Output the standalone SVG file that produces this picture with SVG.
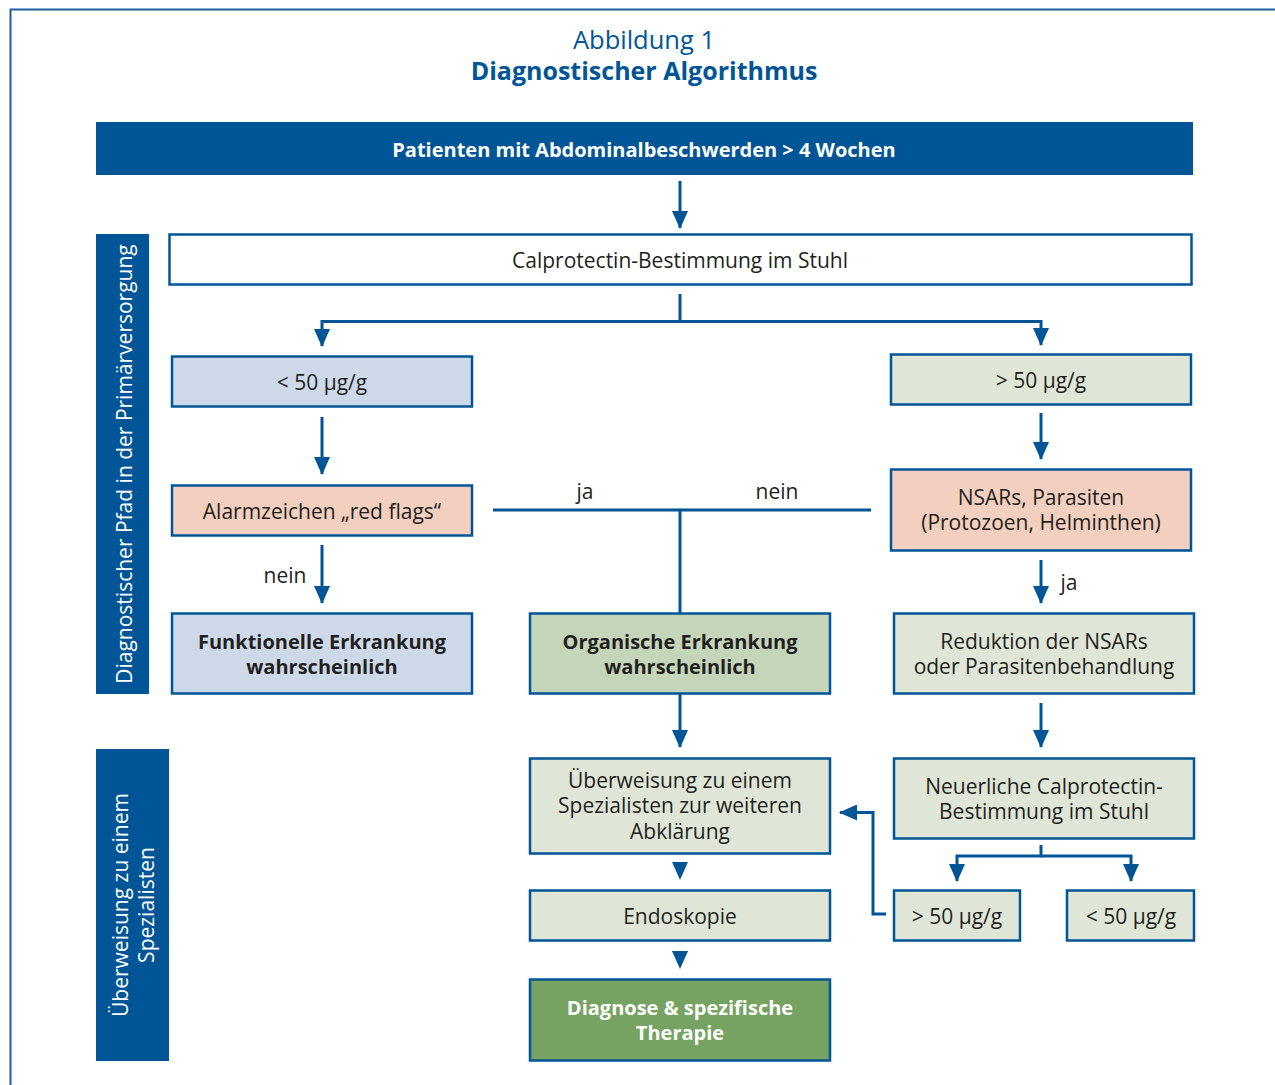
<svg xmlns="http://www.w3.org/2000/svg" width="1275" height="1085" viewBox="0 0 1275 1085">
<defs>
<marker id="ah" markerUnits="userSpaceOnUse" markerWidth="18" markerHeight="16" refX="17" refY="8" orient="auto" viewBox="0 0 18 16">
<path d="M0,0 L18,8 L0,16 Z" fill="#005596"/>
</marker>
</defs>
<style>
text{font-family:"Open Sans","Noto Sans","DejaVu Sans",sans-serif;fill:#231f20;font-size:21px;text-anchor:middle}
.b{font-weight:bold;font-size:20px}
.w{fill:#ffffff}
.t{fill:#005596}
.box{stroke:#005596;stroke-width:2.5}
.ln{stroke:#005596;stroke-width:3;fill:none}
.blue{fill:#cdd9e9}
.gl{fill:#dfe6d7}
.pk{fill:#f3cfbf}
.gm{fill:#c4d5b9}
.gd{fill:#76a361}
</style>
<rect width="1275" height="1085" fill="#ffffff"/>
<path d="M10.5,1085 V9.5 H1275" fill="none" stroke="#1a5e9c" stroke-width="2"/>
<g id="title">
<text x="644" y="49" class="t" style="font-size:25.5px">Abbildung 1</text>
<text x="644" y="80" class="t" style="font-size:25px;font-weight:bold">Diagnostischer Algorithmus</text>
</g>
<g id="connectors">
<line x1="680" y1="181" x2="680" y2="228" class="ln" marker-end="url(#ah)"/>
<polyline points="680,294 680,321.5 322,321.5 322,346" class="ln" marker-end="url(#ah)"/>
<polyline points="680,321.5 1041,321.5 1041,345" class="ln" marker-end="url(#ah)"/>
<line x1="322" y1="417" x2="322" y2="474" class="ln" marker-end="url(#ah)"/>
<line x1="1041" y1="413" x2="1041" y2="459" class="ln" marker-end="url(#ah)"/>
<line x1="493" y1="510" x2="871" y2="510" class="ln"/>
<line x1="680" y1="510" x2="680" y2="613" class="ln"/>
<line x1="322" y1="545" x2="322" y2="603" class="ln" marker-end="url(#ah)"/>
<line x1="1041" y1="560" x2="1041" y2="603" class="ln" marker-end="url(#ah)"/>
<line x1="680" y1="694" x2="680" y2="747" class="ln" marker-end="url(#ah)"/>
<line x1="1041" y1="703" x2="1041" y2="747" class="ln" marker-end="url(#ah)"/>
<polyline points="1041,845 1041,856 957,856 957,881" class="ln" marker-end="url(#ah)"/>
<polyline points="1041,856 1131,856 1131,881" class="ln" marker-end="url(#ah)"/>
<polyline points="886,914 873,914 873,812.5 840,812.5" class="ln" marker-end="url(#ah)"/>
<path d="M672,862 L688,862 L680,880 Z" fill="#005596"/>
<path d="M672,951 L688,951 L680,969 Z" fill="#005596"/>
<text x="585" y="499">ja</text>
<text x="777" y="499">nein</text>
<text x="285" y="583">nein</text>
<text x="1069" y="590">ja</text>
</g>
<g id="header">
<rect x="96" y="122" width="1097" height="53" fill="#005596"/>
<text x="644" y="157" class="b w">Patienten mit Abdominalbeschwerden &gt; 4 Wochen</text>
</g>
<g id="sidebar1">
<rect x="96" y="234" width="53" height="460" fill="#005596"/>
<text transform="translate(132,464) rotate(-90)" class="w">Diagnostischer Pfad in der Primärversorgung</text>
</g>
<g id="sidebar2">
<rect x="96" y="749" width="73" height="312" fill="#005596"/>
<text transform="translate(128,905) rotate(-90)" class="w">Überweisung zu einem</text>
<text transform="translate(154,905) rotate(-90)" class="w">Spezialisten</text>
</g>
<g id="calprotectin">
<rect x="169.5" y="234.5" width="1022" height="50" fill="#ffffff" class="box"/>
<text x="680" y="268">Calprotectin-Bestimmung im Stuhl</text>
</g>
<g id="lt50">
<rect x="172" y="356.5" width="300" height="50" class="box blue"/>
<text x="322" y="390">&lt; 50 µg/g</text>
</g>
<g id="gt50">
<rect x="891" y="354.5" width="300" height="50" class="box gl"/>
<text x="1041" y="388">&gt; 50 µg/g</text>
</g>
<g id="alarm">
<rect x="172" y="485.5" width="300" height="50" class="box pk"/>
<text x="322" y="519">Alarmzeichen „red flags“</text>
</g>
<g id="nsar">
<rect x="891" y="469.5" width="300" height="81" class="box pk"/>
<text x="1041" y="505">NSARs, Parasiten</text>
<text x="1041" y="530">(Protozoen, Helminthen)</text>
</g>
<g id="funktionell">
<rect x="172" y="613.5" width="300" height="80" class="box blue"/>
<text x="322" y="649" class="b">Funktionelle Erkrankung</text>
<text x="322" y="674" class="b">wahrscheinlich</text>
</g>
<g id="organisch">
<rect x="530" y="613.5" width="300" height="80" class="box gm"/>
<text x="680" y="649" class="b">Organische Erkrankung</text>
<text x="680" y="674" class="b">wahrscheinlich</text>
</g>
<g id="reduktion">
<rect x="894" y="613.5" width="300" height="80" class="box gl"/>
<text x="1044" y="649">Reduktion der NSARs</text>
<text x="1044" y="674">oder Parasitenbehandlung</text>
</g>
<g id="ueberweisung">
<rect x="530" y="758.5" width="300" height="95" class="box gl"/>
<text x="680" y="788">Überweisung zu einem</text>
<text x="680" y="813">Spezialisten zur weiteren</text>
<text x="680" y="839">Abklärung</text>
</g>
<g id="neuerliche">
<rect x="894" y="758.5" width="300" height="80" class="box gl"/>
<text x="1044" y="794">Neuerliche Calprotectin-</text>
<text x="1044" y="819">Bestimmung im Stuhl</text>
</g>
<g id="gt50b">
<rect x="894" y="890.5" width="126" height="50" class="box gl"/>
<text x="957" y="924">&gt; 50 µg/g</text>
</g>
<g id="lt50b">
<rect x="1067" y="890.5" width="127" height="50" class="box gl"/>
<text x="1131" y="924">&lt; 50 µg/g</text>
</g>
<g id="endoskopie">
<rect x="530" y="890.5" width="300" height="50" class="box gl"/>
<text x="680" y="924">Endoskopie</text>
</g>
<g id="diagnose">
<rect x="530" y="979.5" width="300" height="81" class="box gd"/>
<text x="680" y="1015" class="b w">Diagnose &amp; spezifische</text>
<text x="680" y="1040" class="b w">Therapie</text>
</g>
</svg>
